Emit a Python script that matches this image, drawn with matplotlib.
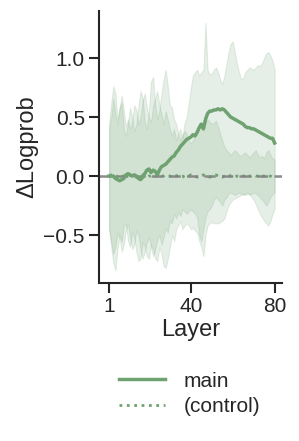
import numpy as np
import matplotlib
matplotlib.use("Agg")
import matplotlib.pyplot as plt

plt.rcParams["font.family"] = ["Liberation Sans", "DejaVu Sans"]

layers = np.arange(1, 81)

main_mean = [0.0, 0.0, 0.0, -0.02, -0.03, -0.04, -0.03, -0.02, 0.01, 0.02,
             0.01, 0.0, 0.01, 0.0, -0.02, -0.03, -0.01, 0.02, 0.05, 0.06,
             0.03, 0.05, 0.04, 0.01, 0.05, 0.08, 0.09, 0.10, 0.12, 0.14,
             0.16, 0.17, 0.20, 0.22, 0.25, 0.27, 0.29, 0.31, 0.32, 0.33,
             0.35, 0.34, 0.37, 0.41, 0.44, 0.40, 0.48, 0.53, 0.55, 0.55,
             0.56, 0.56, 0.57, 0.56, 0.57, 0.56, 0.54, 0.52, 0.50, 0.49,
             0.48, 0.47, 0.46, 0.45, 0.44, 0.42, 0.41, 0.41, 0.40, 0.40,
             0.39, 0.38, 0.37, 0.36, 0.35, 0.34, 0.33, 0.32, 0.32, 0.28]
main_hi = [0.45, 0.62, 0.76, 0.70, 0.48, 0.58, 0.62, 0.40, 0.34, 0.45,
           0.58, 0.50, 0.38, 0.44, 0.60, 0.72, 0.66, 0.46, 0.40, 0.56,
           0.80, 0.84, 0.60, 0.48, 0.56, 0.70, 0.82, 0.90, 0.76, 0.60,
           0.58, 0.48, 0.44, 0.36, 0.40, 0.32, 0.45, 0.50, 0.62, 0.75,
           0.85, 0.88, 0.90, 0.85, 0.88, 0.90, 1.30, 0.90, 0.86, 0.87,
           0.90, 0.92, 0.88, 0.82, 0.78, 0.85, 0.95, 1.05, 1.12, 1.14,
           1.05, 0.95, 0.88, 0.82, 0.83, 0.88, 0.90, 0.92, 0.91, 0.90,
           0.92, 0.94, 0.93, 0.96, 1.00, 1.04, 1.05, 1.02, 0.98, 0.90]
main_lo = [-0.45, -0.60, -0.74, -0.80, -0.62, -0.50, -0.56, -0.42, -0.40, -0.55,
           -0.60, -0.48, -0.52, -0.64, -0.72, -0.70, -0.56, -0.60, -0.68, -0.70,
           -0.58, -0.62, -0.70, -0.72, -0.60, -0.66, -0.76, -0.78, -0.70, -0.60,
           -0.50, -0.55, -0.45, -0.42, -0.38, -0.45, -0.42, -0.40, -0.42, -0.45,
           -0.44, -0.46, -0.48, -0.55, -0.60, -0.68, -0.50, -0.42, -0.40, -0.39,
           -0.40, -0.40, -0.40, -0.39, -0.38, -0.36, -0.30, -0.25, -0.22, -0.20,
           -0.19, -0.18, -0.17, -0.16, -0.15, -0.16, -0.15, -0.15, -0.18, -0.20,
           -0.24, -0.28, -0.32, -0.35, -0.38, -0.40, -0.42, -0.38, -0.32, -0.28]

ctrl_mean = [0.0, 0.01, 0.0, -0.01, 0.0, 0.01, 0.0, 0.0, -0.01, 0.0,
             0.01, 0.0, 0.0, -0.01, 0.0, 0.0, 0.01, 0.0, -0.01, 0.0,
             0.0, 0.01, 0.0, 0.0, -0.01, 0.0, 0.0, 0.01, 0.0, 0.0,
             -0.01, 0.0, 0.0, 0.01, 0.0, 0.0, -0.01, 0.0, 0.0, 0.01,
             0.0, 0.0, -0.01, 0.0, 0.0, 0.01, 0.0, 0.0, -0.01, 0.0,
             0.0, 0.01, 0.0, 0.0, -0.01, 0.0, 0.0, 0.01, 0.0, 0.0,
             -0.01, 0.0, 0.0, 0.01, 0.0, 0.0, -0.01, 0.0, 0.0, 0.01,
             0.0, 0.0, -0.01, 0.0, 0.0, 0.01, 0.0, 0.0, -0.01, 0.0]
ctrl_hi = [0.40, 0.50, 0.66, 0.52, 0.44, 0.58, 0.68, 0.55, 0.42, 0.48,
           0.40, 0.46, 0.60, 0.56, 0.44, 0.50, 0.64, 0.70, 0.58, 0.50,
           0.46, 0.60, 0.66, 0.72, 0.60, 0.52, 0.44, 0.55, 0.48, 0.40,
           0.34, 0.40, 0.30, 0.36, 0.30, 0.35, 0.38, 0.36, 0.30, 0.28,
           0.30, 0.35, 0.40, 0.45, 0.42, 0.38, 0.45, 0.48, 0.46, 0.44,
           0.45, 0.47, 0.42, 0.36, 0.30, 0.25, 0.22, 0.20, 0.18, 0.20,
           0.22, 0.20, 0.18, 0.17, 0.19, 0.20, 0.18, 0.16, 0.18, 0.20,
           0.22, 0.18, 0.16, 0.17, 0.15, 0.20, 0.22, 0.18, 0.15, 0.14]
ctrl_lo = [-0.45, -0.56, -0.66, -0.60, -0.48, -0.52, -0.64, -0.58, -0.46, -0.40,
           -0.52, -0.62, -0.58, -0.46, -0.50, -0.62, -0.70, -0.64, -0.56, -0.52,
           -0.60, -0.68, -0.62, -0.54, -0.50, -0.58, -0.52, -0.44, -0.48, -0.38,
           -0.40, -0.32, -0.36, -0.30, -0.34, -0.28, -0.30, -0.32, -0.30, -0.28,
           -0.30, -0.32, -0.35, -0.50, -0.55, -0.45, -0.35, -0.30, -0.28, -0.25,
           -0.20, -0.18, -0.20, -0.22, -0.25, -0.20, -0.18, -0.15, -0.14, -0.15,
           -0.16, -0.15, -0.14, -0.15, -0.16, -0.15, -0.14, -0.16, -0.15, -0.14,
           -0.15, -0.16, -0.18, -0.20, -0.22, -0.25, -0.22, -0.18, -0.15, -0.14]

green = "#6fa271"
ink = "#262626"

fig = plt.figure(figsize=(2.99, 4.41), dpi=100)
ax = fig.add_axes([0.33, 0.358, 0.613, 0.617])

ax.fill_between(layers, main_lo, main_hi, color=green, alpha=0.17, lw=0.8)
ax.fill_between(layers, ctrl_lo, ctrl_hi, color=green, alpha=0.17, lw=0.8)
ax.axhline(0, color="grey", lw=1.8, ls=(0, (4.5, 2.5)), alpha=0.9)
ax.plot(layers, ctrl_mean, color=green, lw=2, ls=":", label="(control)", zorder=1.5)
ax.plot(layers, main_mean, color=green, lw=2.5, label="main")

ax.set_xlim(-4, 83.5)
ax.set_ylim(-0.907, 1.398)
ax.set_xticks([1, 40, 80])
ax.set_yticks([-0.5, 0.0, 0.5, 1.0])
ax.set_yticklabels(["\u22120.5", "0.0", "0.5", "1.0"])
ax.set_xlabel("Layer", fontsize=17, color=ink, labelpad=2)
ax.set_ylabel("\u0394Logprob", fontsize=17, color=ink, labelpad=4)
ax.tick_params(labelsize=15, colors=ink, length=7, width=1.5, pad=3)
for side in ["top", "right"]:
    ax.spines[side].set_visible(False)
for side in ["left", "bottom"]:
    ax.spines[side].set_linewidth(1.5)
    ax.spines[side].set_color(ink)

handles, labels = ax.get_legend_handles_labels()
fig.legend(handles[::-1], labels[::-1], loc="center", bbox_to_anchor=(0.635, 0.107),
           frameon=False, fontsize=15, handlelength=2.2, labelspacing=0.3,
           handletextpad=0.9, labelcolor=ink)

fig.savefig("out.png", dpi=100)
